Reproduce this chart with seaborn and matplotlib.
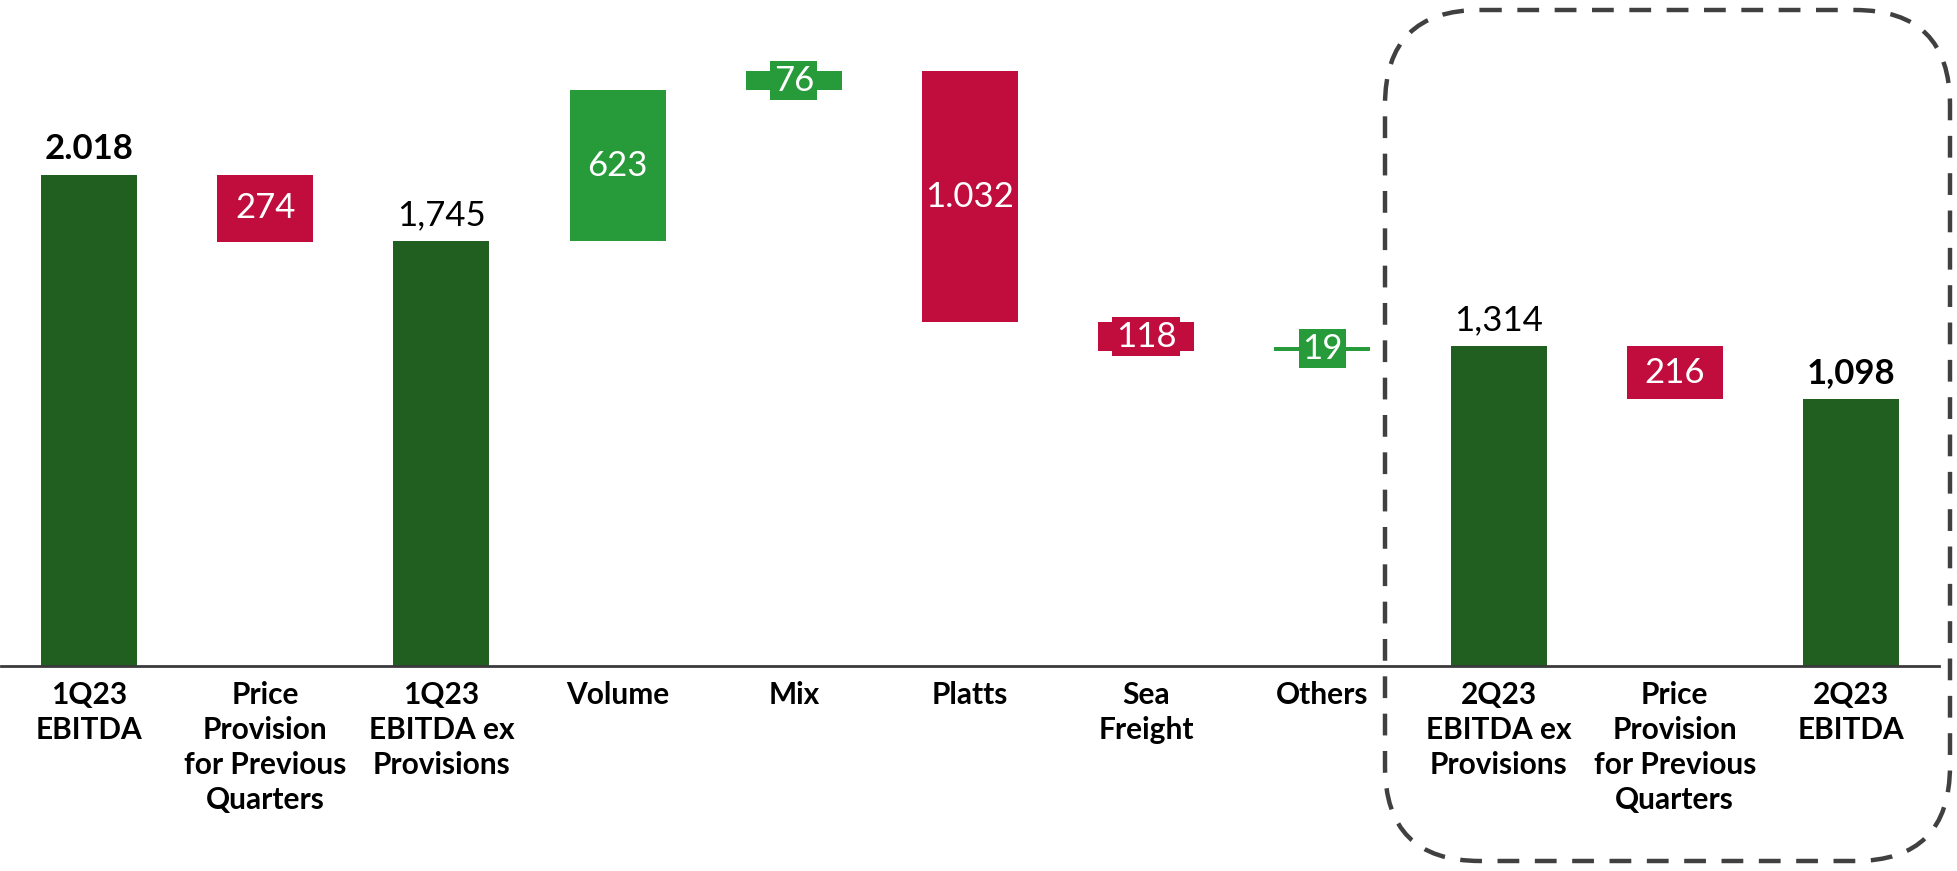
import matplotlib
matplotlib.use("Agg")
import matplotlib.pyplot as plt
import seaborn as sns
import numpy as np
from matplotlib.patches import FancyBboxPatch

# Bridge from 1Q23 EBITDA to 2Q23 EBITDA
categories = [
    "1Q23\nEBITDA",
    "Price\nProvision\nfor Previous\nQuarters",
    "1Q23\nEBITDA ex\nProvisions",
    "Volume",
    "Mix",
    "Platts",
    "Sea\nFreight",
    "Others",
    "2Q23\nEBITDA ex\nProvisions",
    "Price\nProvision\nfor Previous\nQuarters",
    "2Q23\nEBITDA",
]
values = [2018, -274, 1745, 623, 76, -1032, -118, 19, 1314, -216, 1098]
is_total = [True, False, True, False, False, False, False, False, True, False, True]
value_labels = ["2.018", "274", "1,745", "623", "76", "1.032", "118", "19", "1,314", "216", "1,098"]
bold_value = [True, False, False, False, False, False, False, False, False, False, True]

DARK_GREEN = "#215F21"
GREEN = "#279A39"
RED = "#C00D3D"

# running totals -> floating bar bottoms and heights
bottoms, heights, colors = [], [], []
running = 0.0
for v, tot in zip(values, is_total):
    if tot:
        running = v
        bottoms.append(0.0)
        heights.append(v)
        colors.append(DARK_GREEN)
    else:
        start = running
        running = running + v
        bottoms.append(min(start, running))
        heights.append(abs(v))
        colors.append(GREEN if v > 0 else RED)

sns.set_theme(style="white")
plt.rcParams["font.family"] = ["Lato", "DejaVu Sans"]

W, H = 1957, 871
fig = plt.figure(figsize=(W / 100, H / 100), dpi=100)
base_y = 666
ax = fig.add_axes([1 / W, (H - base_y) / H, 1938 / W, base_y / H])

pos = np.arange(len(values))
sns.barplot(x=pos, y=heights, bottom=bottoms, width=0.545, color=DARK_GREEN,
            saturation=1, errorbar=None, ax=ax)
for patch, c in zip(ax.patches, colors):
    patch.set_facecolor(c)
    patch.set_edgecolor("none")
    patch.set_linewidth(0)

ax.set_xlim(-0.5, len(values) - 0.5)
ax.set_ylim(0, base_y / 0.2433)

# value labels
for i, (txt, tot) in enumerate(zip(value_labels, is_total)):
    if tot:
        ax.annotate(txt, (i, bottoms[i] + heights[i]), xytext=(0, 7),
                    textcoords="offset points", ha="center", va="bottom",
                    fontsize=25, color="black",
                    fontweight="bold" if bold_value[i] else "normal")
    else:
        yc = bottoms[i] + heights[i] / 2
        kw = {}
        if heights[i] < 150:
            kw["bbox"] = dict(boxstyle="square,pad=0.1", fc=colors[i], ec="none")
        ax.text(i, yc, txt, ha="center", va="center", fontsize=25,
                color="white", **kw)

ax.set_xticks(pos)
ax.set_xticklabels(categories, fontsize=21.5, fontweight="bold", color="black",
                   linespacing=1.3)
ax.tick_params(axis="x", length=0, pad=11)
ax.set_yticks([])
ax.set_xlabel("")
ax.set_ylabel("")
for side in ["left", "right", "top"]:
    ax.spines[side].set_visible(False)
ax.spines["bottom"].set_color("#3a3a3a")
ax.spines["bottom"].set_linewidth(2)
ax.patch.set_alpha(0)

# dashed frame around the 2Q23 group
ov = fig.add_axes([0, 0, 1, 1], zorder=5)
ov.set_xlim(0, W)
ov.set_ylim(H, 0)
ov.axis("off")
ov.patch.set_alpha(0)
frame = FancyBboxPatch((1385, 10), 1950 - 1385, 861 - 10,
                       boxstyle="round,pad=0,rounding_size=95",
                       fill=False, ec="#404040", lw=3.2,
                       linestyle=(0, (4.9, 3.5)))
ov.add_patch(frame)

fig.savefig("out.png", dpi=100)
